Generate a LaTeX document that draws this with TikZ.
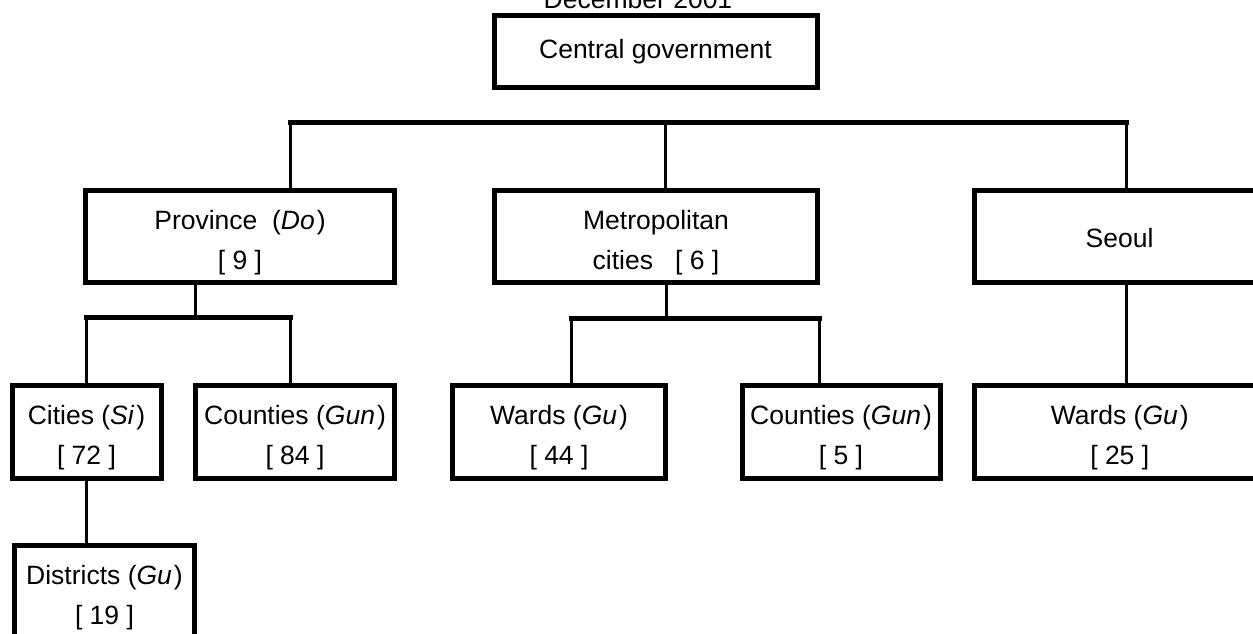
\documentclass[tikz,border=0pt]{standalone}
\usepackage{fontspec}
\setmainfont{Liberation Sans}
\begin{document}
\begin{tikzpicture}[x=1pt,y=-1pt,
  box/.style={draw=black, line width=5pt, inner sep=0pt},
  boxtext/.style={inner sep=0pt, align=center, font=\fontsize{26.5}{40}\selectfont},
  hbar/.style={line width=5pt, line cap=rect},
  vbar/.style={line width=3pt}]
\useasboundingbox (0,0) rectangle (1253,633);
\clip (0,0) rectangle (1253,633);
% title
\node[boxtext, anchor=base] (title) at (638,8) {December 2001};
% boxes
\node[box, minimum width=323pt, minimum height=72pt] (cg) at (655.5,51.5) {};
\node[boxtext] (cgt) at (cg.center) {Central government};
\node[box, minimum width=309pt, minimum height=92pt] (prov) at (240,236) {};
\node[boxtext] (provt) at ([yshift=-7pt]prov.center) {Province\ \ (\textit{Do}\kern2pt)\\{}[ 9 ]};
\node[box, minimum width=323pt, minimum height=92pt] (metro) at (656,236) {};
\node[boxtext] (metrot) at ([yshift=-7pt]metro.center) {Metropolitan\\cities\ \ \ [ 6 ]};
\node[box, minimum width=290pt, minimum height=92pt] (seoul) at (1119.5,236) {};
\node[boxtext] (seoult) at ([yshift=-2pt]seoul.center) {Seoul};
\node[box, minimum width=149pt, minimum height=92.5pt] (cities) at (86.5,431.75) {};
\node[boxtext] (citiest) at ([yshift=-6pt]cities.center) {Cities (\textit{Si}\kern2pt)\\{}[ 72 ]};
\node[box, minimum width=199pt, minimum height=92.5pt] (cnty1) at (295,431.75) {};
\node[boxtext] (cnty1t) at ([yshift=-6pt]cnty1.center) {Counties (\textit{Gun}\kern2pt)\\{}[ 84 ]};
\node[box, minimum width=213.5pt, minimum height=92.5pt] (wards1) at (559,431.75) {};
\node[boxtext] (wards1t) at ([yshift=-6pt]wards1.center) {Wards (\textit{Gu}\kern2pt)\\{}[ 44 ]};
\node[box, minimum width=198pt, minimum height=92.5pt] (cnty2) at (841,431.75) {};
\node[boxtext] (cnty2t) at ([yshift=-6pt]cnty2.center) {Counties (\textit{Gun}\kern2pt)\\{}[ 5 ]};
\node[box, minimum width=290.5pt, minimum height=92.5pt] (wards2) at (1119.75,431.75) {};
\node[boxtext] (wards2t) at ([yshift=-6pt]wards2.center) {Wards (\textit{Gu}\kern2pt)\\{}[ 25 ]};
\node[box, minimum width=180pt, minimum height=92.5pt] (dist) at (104.5,592) {};
\node[boxtext] (distt) at ([yshift=-6pt]dist.center) {Districts (\textit{Gu}\kern2pt)\\{}[ 19 ]};
% top level bar
\coordinate (hL) at (290,122.5);
\coordinate (hM) at (665.5,122.5);
\coordinate (hR) at (1126.7,122.5);
\draw[hbar] (hL) -- (hR);
\draw[vbar] (hL) -- (hL |- prov.north);
\draw[vbar] (hM) -- (hM |- metro.north);
\draw[vbar] (hR) -- (hR |- seoul.north);
\draw[vbar] (hR |- seoul.south) -- (hR |- wards2.north);
% province branch
\coordinate (pC) at (195,317.5);
\coordinate (pL) at (86,317.5);
\coordinate (pR) at (290,317.5);
\draw[vbar] (pC |- prov.south) -- (pC);
\draw[hbar] (pL) -- (pR);
\draw[vbar] (pL) -- (pL |- cities.north);
\draw[vbar] (pR) -- (pR |- cnty1.north);
\draw[vbar] (pL |- cities.south) -- (pL |- dist.north);
% metropolitan branch
\coordinate (mC) at (666,318);
\coordinate (mL) at (571,318);
\coordinate (mR) at (819,318);
\draw[vbar] (mC |- metro.south) -- (mC);
\draw[hbar] (mL) -- (mR);
\draw[vbar] (mL) -- (mL |- wards1.north);
\draw[vbar] (mR) -- (mR |- cnty2.north);
\end{tikzpicture}
\end{document}
